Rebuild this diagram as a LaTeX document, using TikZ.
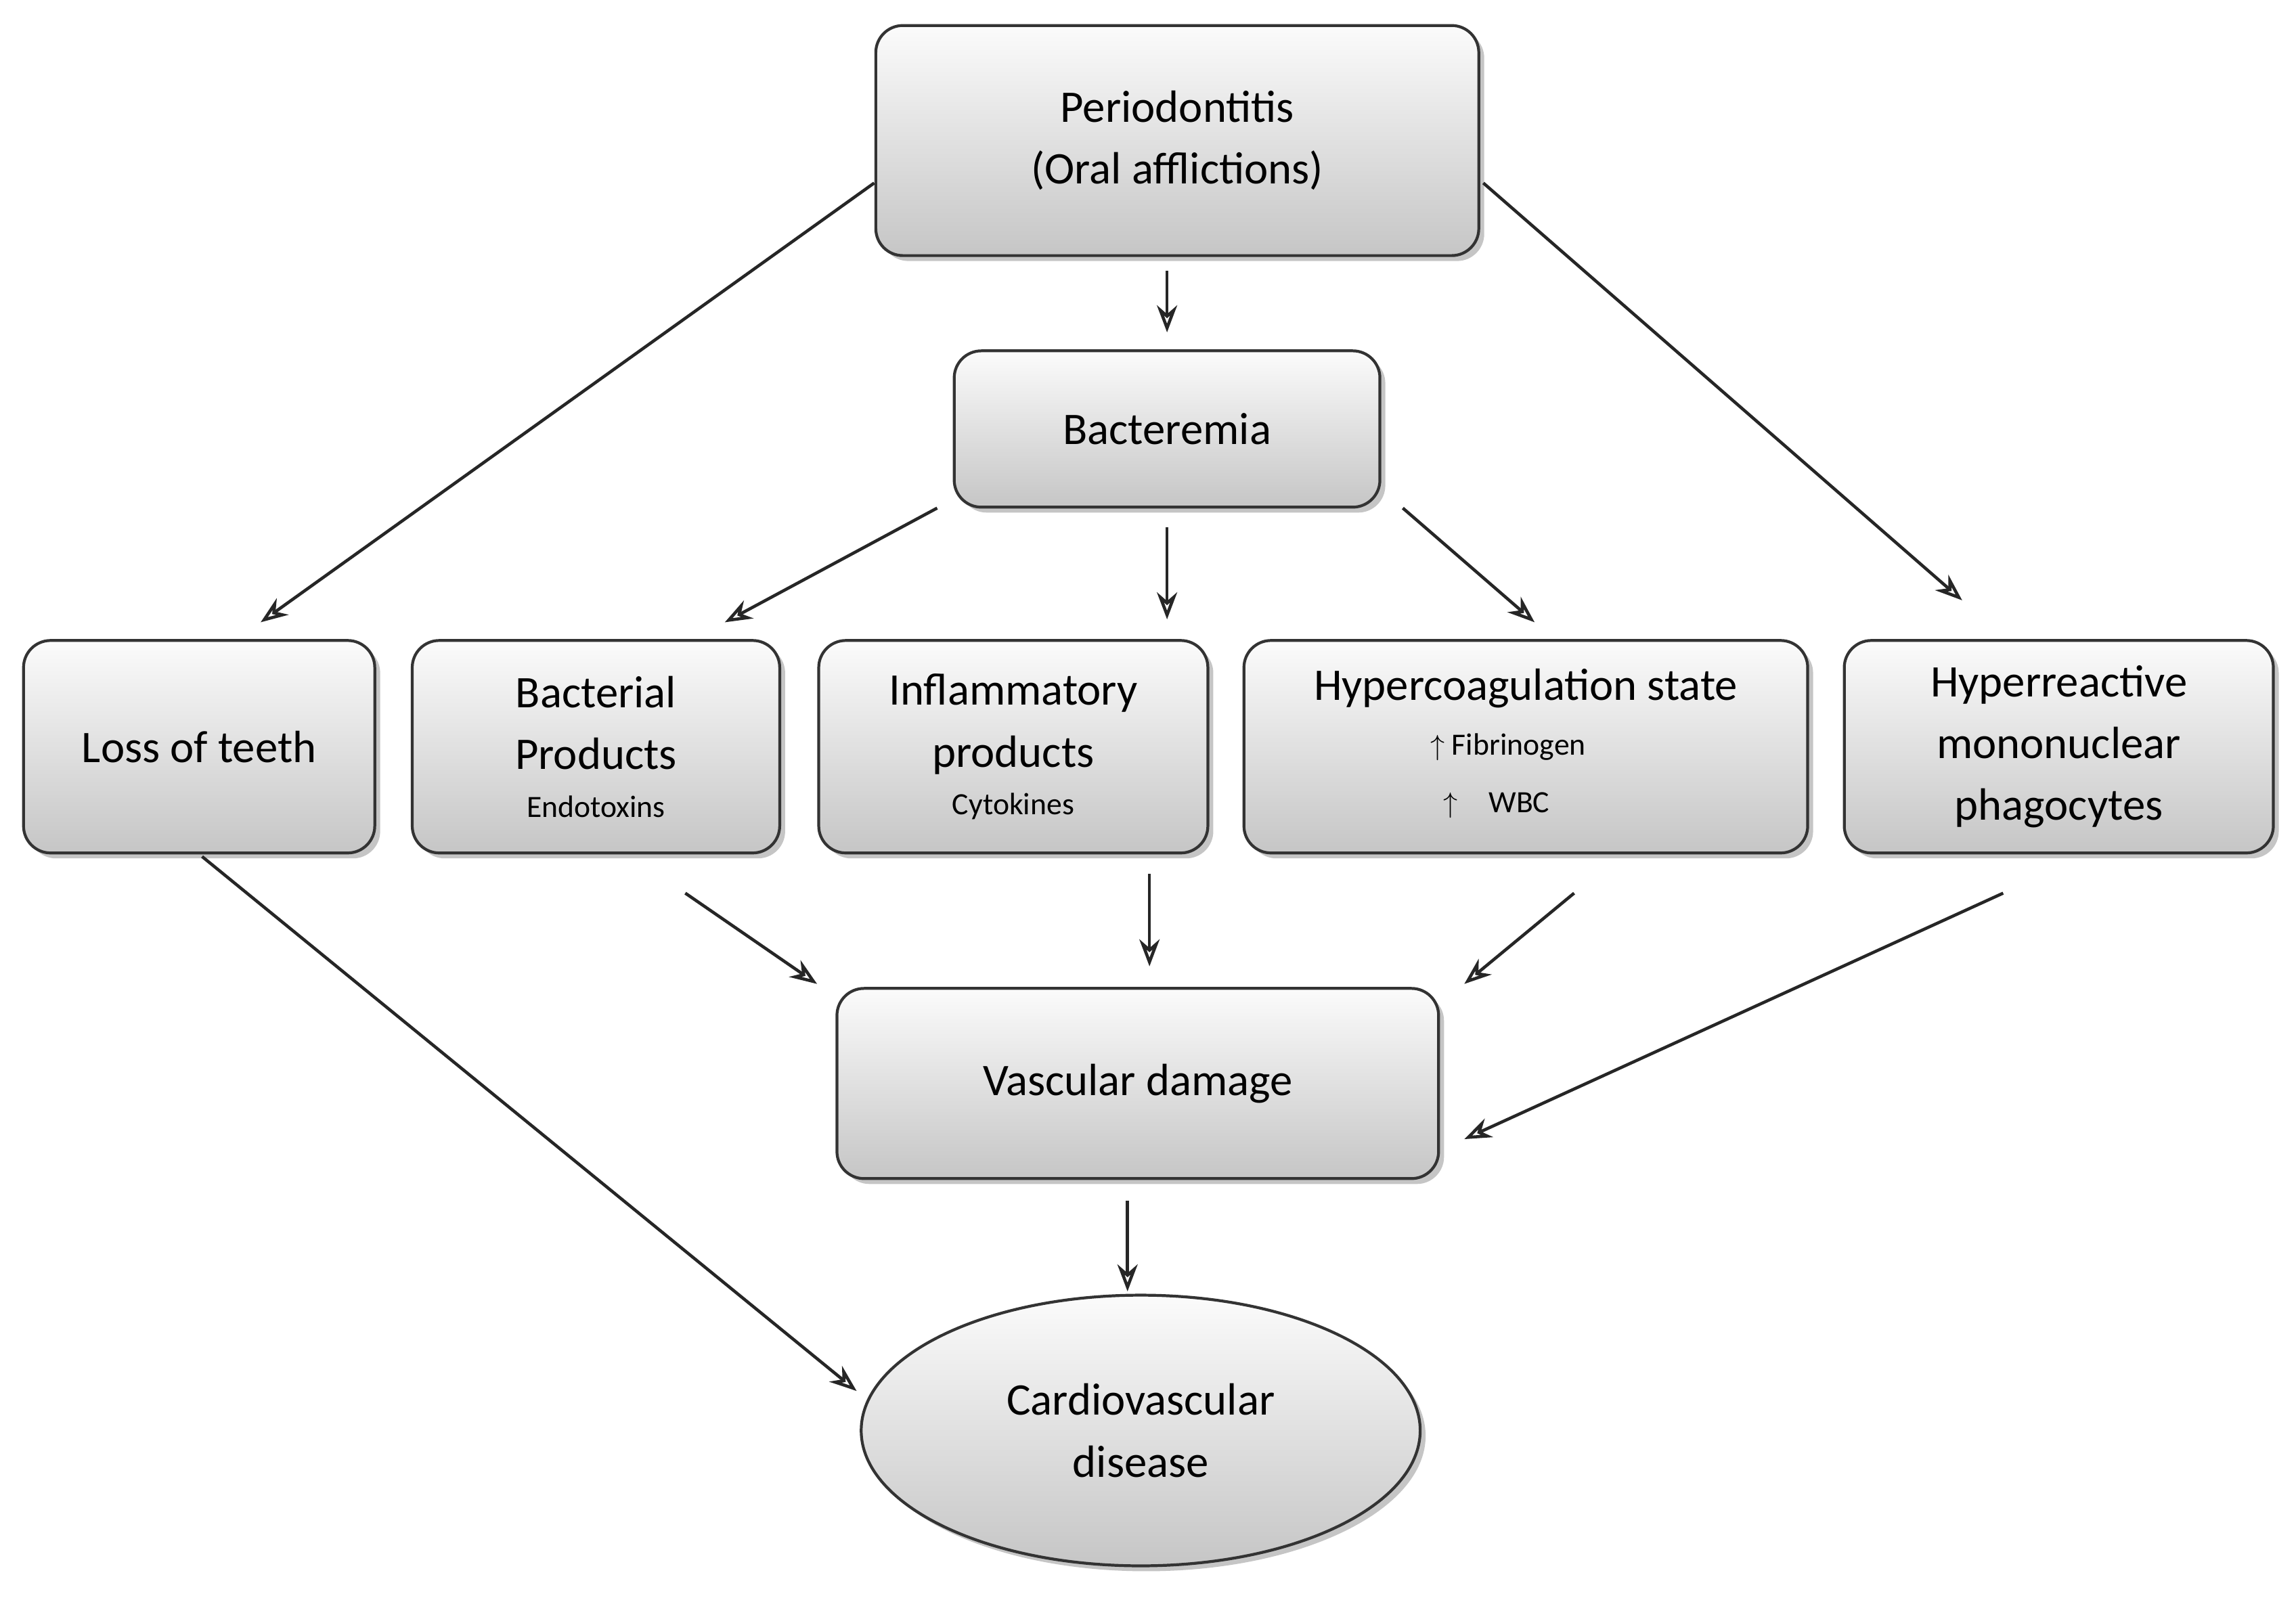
\documentclass[tikz,border=0pt]{standalone}
\usepackage{fontspec}
\setmainfont{Carlito}
\usetikzlibrary{shadows,arrows.meta,shapes.geometric}
\begin{document}
\begin{tikzpicture}[x=0.02163cm,y=-0.02163cm,
  box/.style={draw=black!80,line width=1.2pt,rounded corners=0.4cm,top color=gray!3,bottom color=gray!45,
    drop shadow={shadow xshift=0.08cm,shadow yshift=-0.08cm,fill=black!45},align=center,
    font=\fontsize{19}{26}\selectfont,inner sep=2pt},
  arr/.style={-{Stealth[length=0.4cm,width=0.3cm,open]},line width=1.3pt,black!85},
  sm/.style={font=\fontsize{13}{16}\selectfont}]
\useasboundingbox (0,0) rectangle (1568,1091);
\fill[white] (0,0) rectangle (1568,1091);
\node[box,minimum width=8.91cm,minimum height=3.40cm] (p) at (804,96) {Periodontitis\\(Oral afflictions)};
\node[box,minimum width=6.29cm,minimum height=2.31cm] (b) at (797,293) {Bacteremia};
\node[box,minimum width=5.19cm,minimum height=3.14cm] (l) at (136,510) {Loss of teeth};
\node[box,minimum width=5.43cm,minimum height=3.14cm] (bp) at (407,510) {Bacterial\\Products\\[-6pt]{\fontsize{13}{16}\selectfont Endotoxins}};
\node[box,minimum width=5.75cm,minimum height=3.14cm] (ip) at (692,510) {Inflammatory\\products\\[-6pt]{\fontsize{13}{16}\selectfont Cytokines}};
\node[box,minimum width=8.33cm,minimum height=3.14cm] (h) at (1042,510) {};
\node[font=\fontsize{19}{26}\selectfont] (ht) at (1042,470) {Hypercoagulation state};
\node[sm] (hf) at (1030,510) {$\uparrow$ Fibrinogen};
\node[sm] (hw) at (1022,550) {$\uparrow$\hspace{1em}WBC};
\node[box,minimum width=6.34cm,minimum height=3.14cm] (hr) at (1406,510) {Hyperreactive\\mononuclear\\phagocytes};
\node[box,minimum width=8.89cm,minimum height=2.81cm] (v) at (777,740) {Vascular damage};
\node[box,ellipse,rounded corners=0pt,minimum width=8.26cm,minimum height=4.0cm] (c) at (779,977) {Cardiovascular\\disease};
\coordinate (a1) at (597,125); \coordinate (a1e) at (178,425);
\coordinate (a2) at (797,185); \coordinate (a2e) at (797,227);
\coordinate (a3) at (1013,125); \coordinate (a3e) at (1340,410);
\coordinate (a4) at (640,347); \coordinate (a4e) at (495,425);
\coordinate (a5) at (797,360); \coordinate (a5e) at (797,423);
\coordinate (a6) at (958,347); \coordinate (a6e) at (1048,425);
\coordinate (a7) at (468,610); \coordinate (a7e) at (558,672);
\coordinate (a8) at (785,597); \coordinate (a8e) at (785,660);
\coordinate (a9) at (1075,610); \coordinate (a9e) at (1000,672);
\coordinate (a10) at (1368,610); \coordinate (a10e) at (1000,778);
\coordinate (a11) at (138,585); \coordinate (a11e) at (585,950);
\coordinate (a12) at (770,820); \coordinate (a12e) at (770,882);
\foreach \i in {1,...,12} {\draw[arr] (a\i) -- (a\i e);}
\end{tikzpicture}
\end{document}
